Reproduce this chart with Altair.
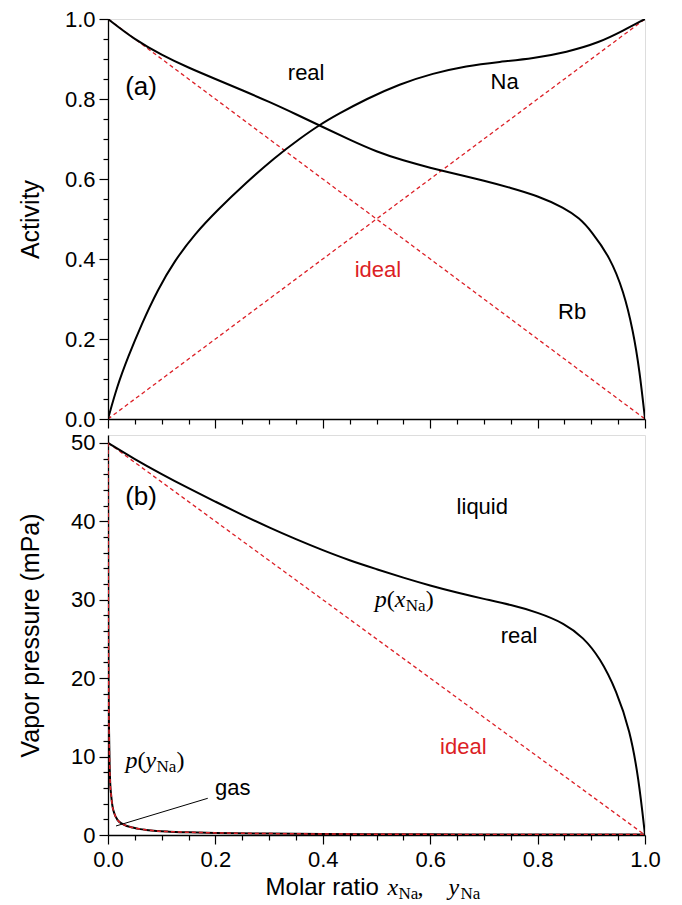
import altair as alt
import pandas as pd

RED = "#dc1f26"
SANS = "Liberation Sans"
SERIF = "Liberation Serif"

# ---------------- data ----------------
# (a) activities
x_na = [0, 0.017, 0.0373, 0.0621, 0.0932, 0.1243, 0.1615, 0.205, 0.2547, 0.3107,
        0.3604, 0.3914, 0.4287, 0.481, 0.543, 0.605, 0.667, 0.7295, 0.7917,
        0.8537, 0.916, 0.9594, 1.0]
a_na = [0, 0.082, 0.155, 0.236, 0.325, 0.396, 0.4625, 0.524, 0.5875, 0.654,
        0.704, 0.733, 0.7625, 0.80, 0.8375, 0.864, 0.883, 0.893, 0.9017,
        0.9167, 0.9417, 0.971, 1.0]
x_rb = [0, 0.05, 0.1, 0.15, 0.2, 0.25, 0.3, 0.35, 0.4, 0.45, 0.5, 0.55, 0.6, 0.65,
        0.7, 0.75, 0.8, 0.85, 0.878, 0.9, 0.935, 0.96, 0.978, 0.99, 1.0]
a_rb = [1.0, 0.948, 0.91, 0.878, 0.85, 0.822, 0.793, 0.762, 0.73, 0.698, 0.668,
        0.646, 0.628, 0.612, 0.596, 0.578, 0.558, 0.528, 0.502, 0.47, 0.404, 0.32,
        0.22, 0.12, 0.0]
ideal_x = [0.0, 1.0]
ideal_na = [0.0, 1.0]
ideal_rb = [1.0, 0.0]

# (b) vapour pressures (mPa)
x_liq = [0, 0.05, 0.1, 0.15, 0.2, 0.25, 0.3, 0.35, 0.4, 0.45, 0.5, 0.55, 0.6,
         0.65, 0.7, 0.75, 0.8, 0.85, 0.885, 0.916, 0.947, 0.972, 0.988, 1.0]
p_liq = [50, 47.9, 46.0, 44.2, 42.5, 40.8, 39.2, 37.7, 36.3, 35.0, 33.9, 32.8,
         31.8, 30.9, 30.1, 29.35, 28.4, 27.0, 25.2, 22.6, 18.4, 13.3, 7.3, 0]
y_gas = [0, 0.0005, 0.001, 0.002, 0.003, 0.004, 0.006, 0.008, 0.012, 0.018, 0.027,
         0.035, 0.046, 0.06, 0.071, 0.09, 0.114, 0.15, 0.2, 0.3, 0.4, 0.5, 0.6,
         0.7, 0.8, 0.9, 1.0]
p_gas = [50, 30, 20, 13, 9, 6.8, 5, 3.8, 2.7, 1.9, 1.4, 1.15, 0.95, 0.75, 0.65,
         0.52, 0.43, 0.35, 0.27, 0.18, 0.13, 0.1, 0.08, 0.07, 0.06, 0.05, 0.05]
ideal_p = [50.0, 0.0]

x_ticks = [round(i * 0.05, 2) for i in range(21)]
act_ticks = [round(i * 0.05, 2) for i in range(21)]
p_ticks = list(range(0, 51, 2))

W, H = 537, 400

# ---------------- axes ----------------
MAJ5 = "abs(datum.value*5 - round(datum.value*5)) < 1e-6"
MAJ10 = "abs(datum.value/10 - round(datum.value/10)) < 1e-6"


def tick_size(test):
    return {"condition": {"test": test, "value": 9}, "value": 5}


axis_common = dict(domainColor="black", domainWidth=1.3, tickColor="black",
                   tickWidth=1.2, grid=False, labelFont=SANS, labelFontSize=22,
                   labelColor="black", titleFont=SANS, titleFontSize=25,
                   titleFontWeight="normal", titleColor="black",
                   labelOverlap=False, labelFlush=False, labelBound=False)

x_axis_top = alt.Axis(values=x_ticks, tickSize=tick_size(MAJ5), labels=False,
                      title=None, **axis_common)
x_axis_bot = alt.Axis(values=x_ticks, tickSize=tick_size(MAJ5), labelPadding=5,
                      labelExpr=f"{MAJ5} ? format(datum.value, '.1f') : ''",
                      title=None, **axis_common)
y_axis_top = alt.Axis(values=act_ticks, tickSize=tick_size(MAJ5), labelPadding=4,
                      labelExpr=f"{MAJ5} ? format(datum.value, '.1f') : ''",
                      title="Activity", titleX=-65, titleY=H / 2, **axis_common)
y_axis_bot = alt.Axis(values=p_ticks, tickSize=tick_size(MAJ10), labelPadding=4,
                      labelExpr=f"{MAJ10} ? format(datum.value, 'd') : ''",
                      title="Vapor pressure (mPa)", titleX=-65, titleY=H / 2,
                      **axis_common)

xs_top = alt.X("x:Q", scale=alt.Scale(domain=[0, 1], nice=False, zero=False), axis=x_axis_top)
xs_bot = alt.X("x:Q", scale=alt.Scale(domain=[0, 1], nice=False, zero=False), axis=x_axis_bot)
ys_top = alt.Y("y:Q", scale=alt.Scale(domain=[0, 1], nice=False), axis=y_axis_top)
ys_bot = alt.Y("y:Q", scale=alt.Scale(domain=[0, 51], nice=False), axis=y_axis_bot)


def line(xv, yv, xs, ys, color="black", dash=None, width=2.0, interp="basis"):
    df = pd.DataFrame({"x": xv, "y": yv})
    kw = dict(color=color, strokeWidth=width, interpolate=interp, clip=True)
    if dash:
        kw["strokeDash"] = dash
    return alt.Chart(df).mark_line(**kw).encode(x=xs, y=ys)


def label(xs, ys, xv, yv, text, size=22, color="black", font=SANS, style="normal",
          align="center", baseline="middle", dx=0, dy=0):
    df = pd.DataFrame({"x": [xv], "y": [yv], "t": [text]})
    return alt.Chart(df).mark_text(font=font, fontSize=size, color=color,
                                   fontStyle=style, align=align, baseline=baseline,
                                   dx=dx, dy=dy).encode(x=xs, y=ys, text="t:N")


def p_of(var, xv, yv):
    """p(var_Na) in serif italic with subscript, anchored at left baseline."""
    kw = dict(align="left", baseline="alphabetic", font=SERIF)
    return [
        label(xs_bot, ys_bot, xv, yv, "p", size=24, style="italic", **kw),
        label(xs_bot, ys_bot, xv, yv, "(", size=24, dx=12, **kw),
        label(xs_bot, ys_bot, xv, yv, var, size=24, style="italic", dx=20, **kw),
        label(xs_bot, ys_bot, xv, yv, "Na", size=17, dx=31, dy=4, **kw),
        label(xs_bot, ys_bot, xv, yv, ")", size=24, dx=51, **kw),
    ]


DASH = [4, 3]
T = (xs_top, ys_top)
B = (xs_bot, ys_bot)

# ---------------- panel (a) ----------------
top = alt.layer(
    line(ideal_x, ideal_na, *T, color=RED, dash=DASH, width=1.3, interp="linear"),
    line(ideal_x, ideal_rb, *T, color=RED, dash=DASH, width=1.3, interp="linear"),
    line(x_na, a_na, *T),
    line(x_rb, a_rb, *T),
    label(*T, 0.0615, 0.83, "(a)", size=26),
    label(*T, 0.369, 0.865, "real"),
    label(*T, 0.7386, 0.8425, "Na"),
    label(*T, 0.5027, 0.372, "ideal", color=RED),
    label(*T, 0.8643, 0.268, "Rb"),
).properties(width=W, height=H)

# ---------------- panel (b) ----------------
gas_df = pd.DataFrame({"x": [0.0149], "y": [1.15], "x2": [0.1858], "y2": [4.68]})
leader = alt.Chart(gas_df).mark_rule(color="black", strokeWidth=1).encode(
    x=xs_bot, y=ys_bot, x2="x2:Q", y2="y2:Q")

bot_layers = [
    line(ideal_x, ideal_p, *B, color=RED, dash=DASH, width=1.3, interp="linear"),
    line(x_liq, p_liq, *B),
    line(y_gas, p_gas, *B, interp="monotone"),
    line(y_gas, p_gas, *B, color=RED, dash=DASH, width=1.5, interp="monotone"),
    leader,
    label(*B, 0.0615, 43.07, "(b)", size=26),
    label(*B, 0.697, 41.83, "liquid"),
    label(*B, 0.7655, 25.35, "real"),
    label(*B, 0.6617, 11.16, "ideal", color=RED),
    label(*B, 0.2325, 5.94, "gas"),
]
bot_layers += p_of("x", 0.4966, 29.03)
bot_layers += p_of("y", 0.0324, 8.6)
# x-axis title: "Molar ratio  x_Na,  y_Na"
TX, TY = 0.2934, -7.7
ax_kw = dict(align="left", baseline="alphabetic")
bot_layers += [
    label(*B, TX, TY, "Molar ratio", size=24, **ax_kw),
    label(*B, TX, TY, "x", size=24, font=SERIF, style="italic", dx=122, **ax_kw),
    label(*B, TX, TY, "Na", size=17, font=SERIF, dx=133, dy=4, **ax_kw),
    label(*B, TX, TY, ",", size=24, font=SERIF, dx=152, **ax_kw),
    label(*B, TX, TY, "y", size=24, font=SERIF, style="italic", dx=183, **ax_kw),
    label(*B, TX, TY, "Na", size=17, font=SERIF, dx=195, dy=4, **ax_kw),
]

bot = alt.layer(*bot_layers).properties(width=W, height=H)

chart = alt.vconcat(top, bot, spacing=16, bounds="flush").properties(
    padding={"left": 9, "top": -1, "right": 5, "bottom": 0}
).configure_view(stroke="black", strokeWidth=1.3).configure_axis(
    labelOverlap=False).configure(background="white")

chart.save("out.html", embed_options={"renderer": "svg", "actions": False})
